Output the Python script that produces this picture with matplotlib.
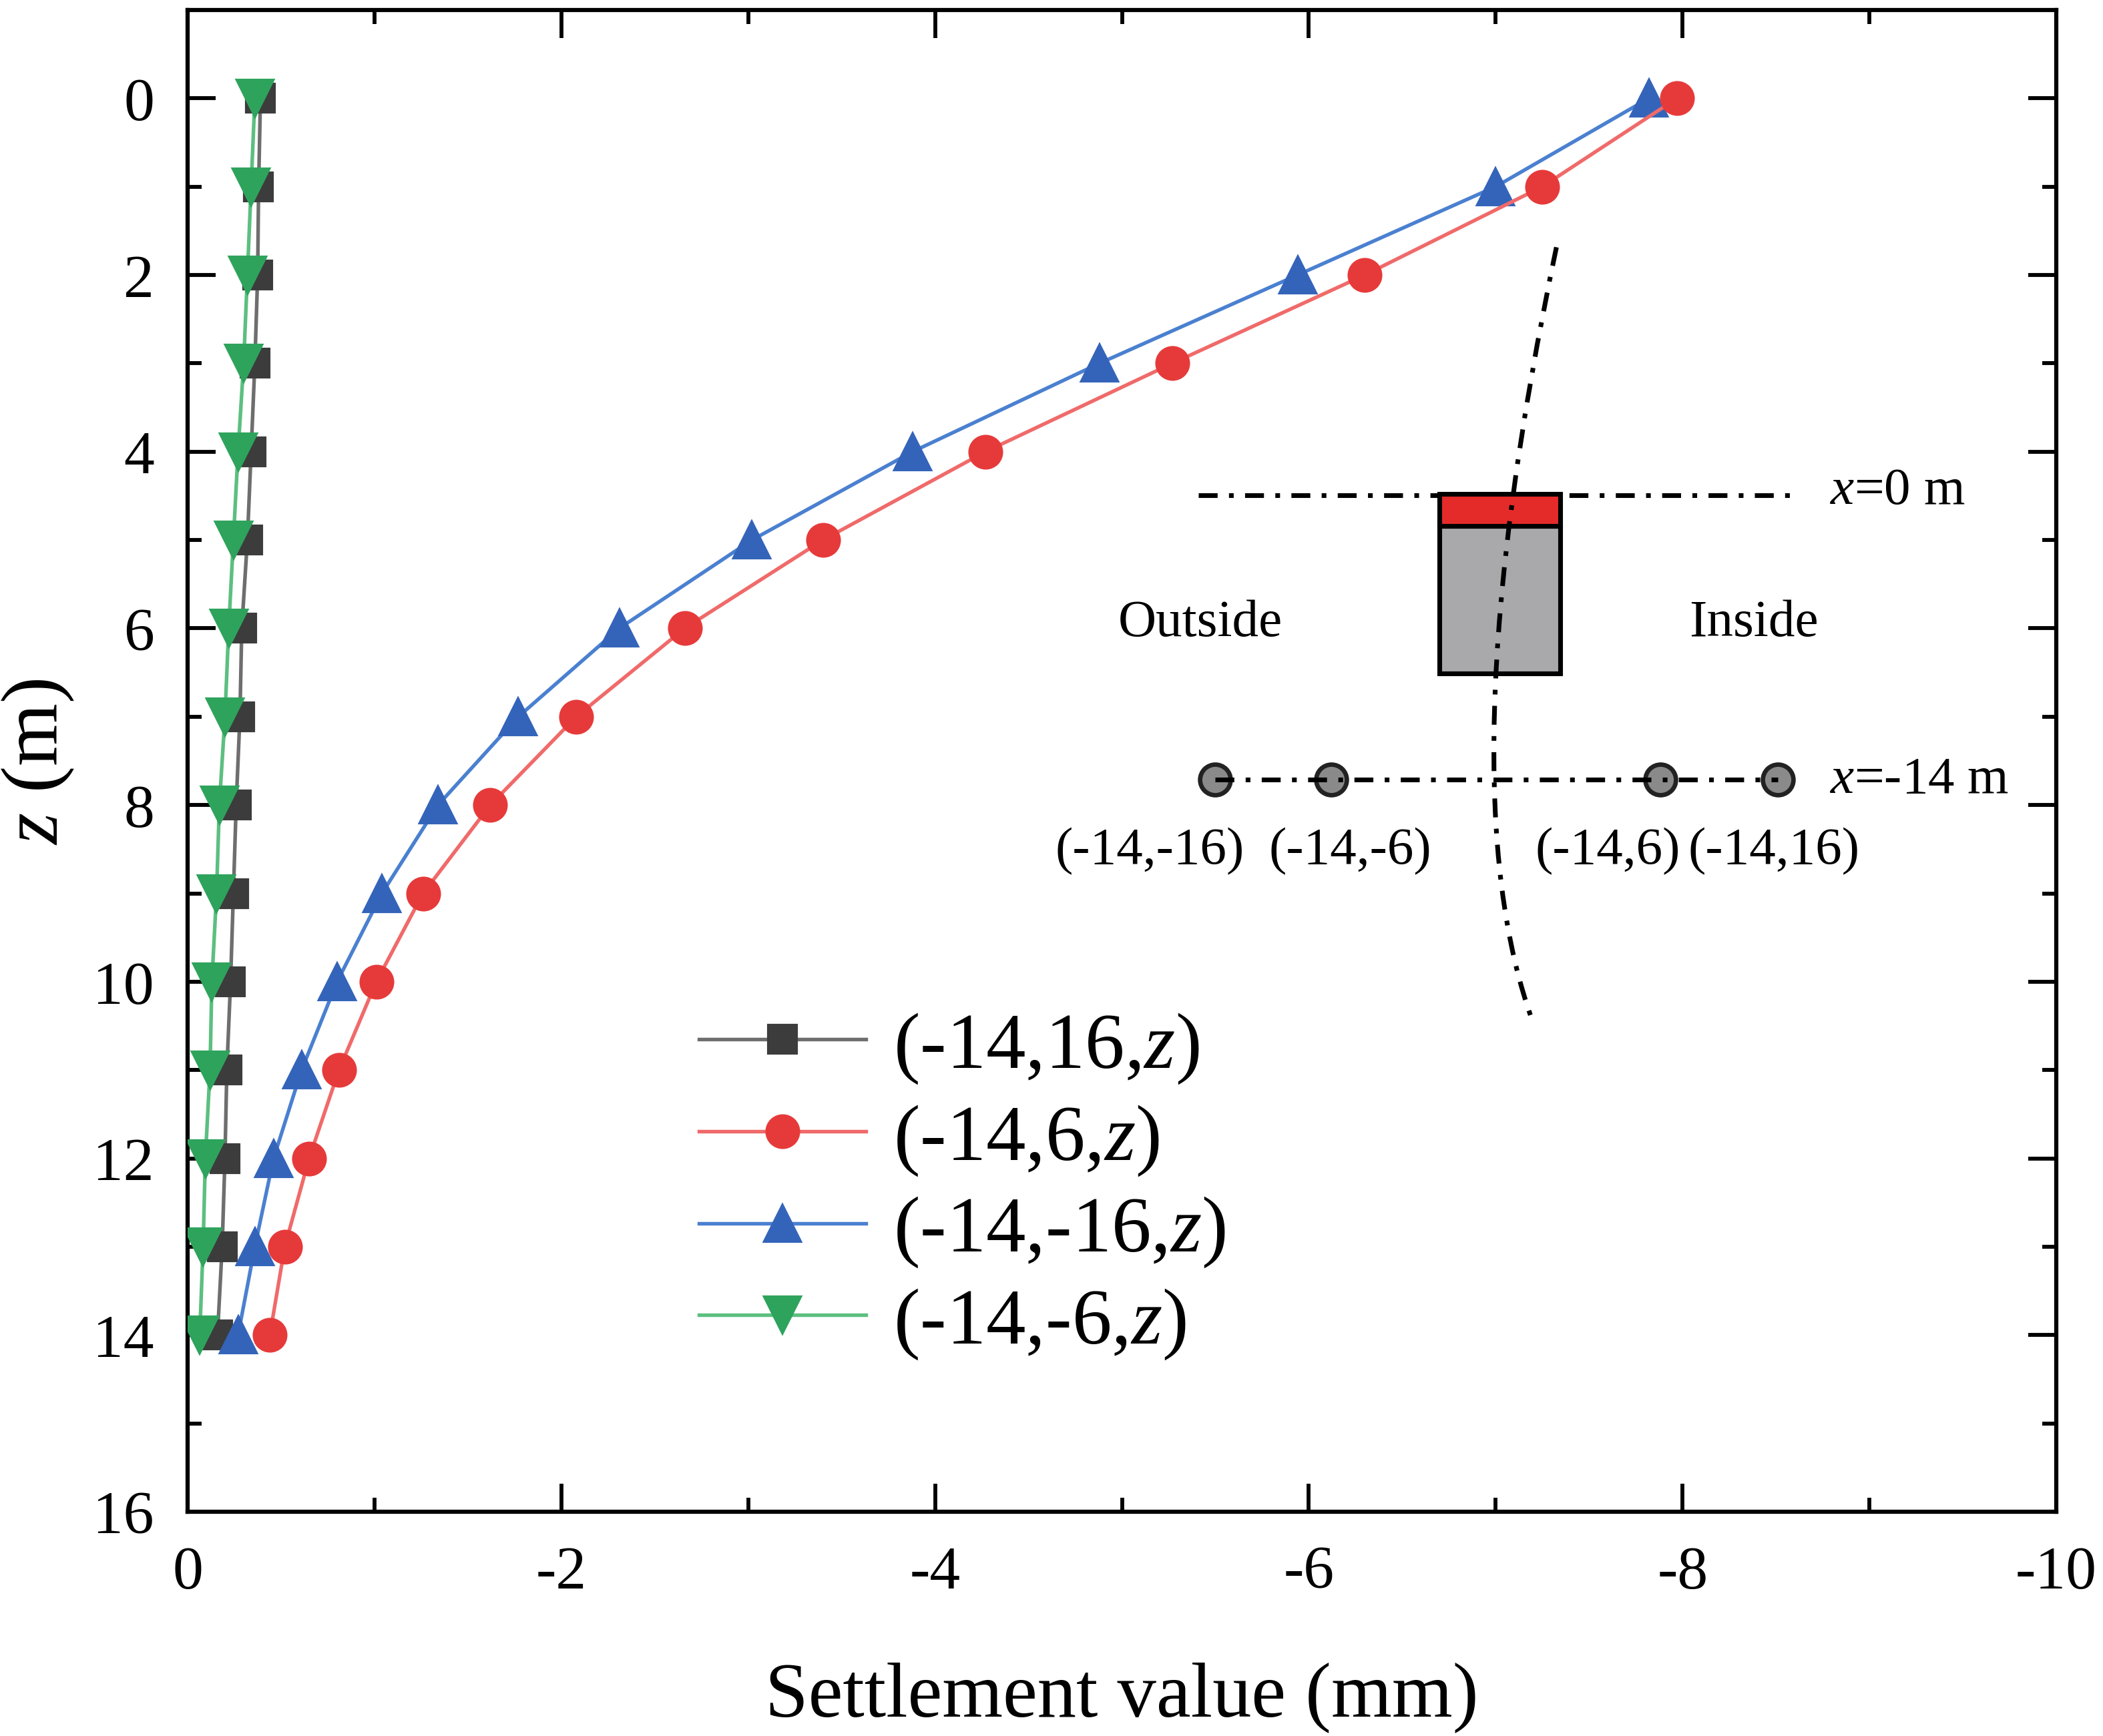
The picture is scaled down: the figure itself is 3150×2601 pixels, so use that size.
"""
    settlement along depth at x=-14 m, four monitoring columns
"""

import numpy as np
import matplotlib
matplotlib.use("Agg")
import matplotlib.pyplot as plt
from matplotlib.path import Path
from matplotlib.patches import PathPatch, Rectangle

plt.rcParams["font.family"] = ["Liberation Serif", "DejaVu Serif"]
plt.rcParams["mathtext.fontset"] = "custom"
plt.rcParams["mathtext.rm"] = "Liberation Serif"
plt.rcParams["mathtext.it"] = "Liberation Serif:italic"
plt.rcParams["axes.unicode_minus"] = False

# depth (m)
depth = list(range(15))

# settlement (mm)
settle_p16 = [-0.39, -0.38, -0.375, -0.36, -0.34, -0.32, -0.29, -0.28,
              -0.26, -0.245, -0.23, -0.21, -0.20, -0.185, -0.16]
settle_p6 = [-7.97, -7.25, -6.30, -5.27, -4.27, -3.40, -2.66, -2.08,
             -1.62, -1.26, -1.01, -0.81, -0.65, -0.52, -0.44]
settle_m16 = [-7.82, -7.00, -5.94, -4.88, -3.88, -3.02, -2.31, -1.77,
              -1.34, -1.04, -0.80, -0.61, -0.46, -0.36, -0.27]
settle_m6 = [-0.36, -0.34, -0.32, -0.30, -0.27, -0.245, -0.22, -0.20,
             -0.17, -0.155, -0.13, -0.12, -0.095, -0.083, -0.065]

labels = ["(-14,16,$z$)", "(-14,6,$z$)", "(-14,-16,$z$)", "(-14,-6,$z$)"]

x_ticks = [0, -2, -4, -6, -8, -10]
y_ticks = [0, 2, 4, 6, 8, 10, 12, 14, 16]

fig = plt.figure(figsize=(10.5, 8.6733), dpi=300)
ax = fig.add_axes([0.0892, 0.1291, 0.8886, 0.8648])

h_black, = ax.plot(settle_p16, depth, color="#6e6e6e", lw=1.3, marker="s",
                   ms=10, mfc="#3c3c3c", mec="#3c3c3c", zorder=2)
h_red, = ax.plot(settle_p6, depth, color="#f06a6a", lw=1.3, marker="o",
                 ms=11.5, mfc="#e63a3a", mec="#e63a3a", zorder=4)
h_blue, = ax.plot(settle_m16, depth, color="#4a80d0", lw=1.3, marker="^",
                  ms=13, mfc="#3464ba", mec="#3464ba", zorder=3)
h_green, = ax.plot(settle_m6, depth, color="#5cbf80", lw=1.3, marker="v",
                   ms=13, mfc="#2ea35c", mec="#2ea35c", zorder=5)

ax.set_xlim(0, -10)
ax.set_ylim(16, -1)
ax.set_xticks(x_ticks)
ax.set_xticks(np.arange(-1, -10, -2), minor=True)
ax.set_yticks(y_ticks)
ax.set_yticks(np.arange(1, 16, 2), minor=True)
ax.tick_params(which="both", direction="in", top=True, right=True,
               width=1.4, labelsize=22, pad=12)
ax.tick_params(which="major", length=10)
ax.tick_params(which="minor", length=5)
for sp in ax.spines.values():
    sp.set_linewidth(1.5)

ax.set_xlabel("Settlement value (mm)", fontsize=28, labelpad=22)
ax.set_ylabel("$z$ (m)", fontsize=29, labelpad=6)

ax.legend([h_black, h_red, h_blue, h_green], labels, loc="upper left",
          bbox_to_anchor=(0.2525, 0.36), frameon=False, fontsize=28.5,
          handlelength=2.1, handletextpad=0.35, labelspacing=0.22,
          borderpad=0)

# schematic inset (axes fraction)
tr = ax.transAxes
dash = (0, (4, 2.4, 1.0, 2.4))
ax.plot([0.541, 0.860], [0.677, 0.677], transform=tr, color="black",
        lw=1.7, ls=dash)
ax.add_patch(Rectangle((0.670, 0.558), 0.0645, 0.0985, transform=tr,
                       facecolor="#a9a9ab", edgecolor="black", lw=1.7,
                       zorder=6))
ax.add_patch(Rectangle((0.670, 0.6563), 0.0645, 0.0215, transform=tr,
                       facecolor="#e52a2a", edgecolor="black", lw=1.7,
                       zorder=6))
arc = Path([(0.7325, 0.842), (0.6722, 0.4848), (0.7205, 0.324)],
           [Path.MOVETO, Path.CURVE3, Path.CURVE3])
ax.add_patch(PathPatch(arc, transform=tr, fill=False, edgecolor="black",
                       lw=1.7, ls=dash, zorder=7))

ax.plot([0.550, 0.851], [0.4875, 0.4875], transform=tr, color="black",
        lw=1.7, ls=dash, zorder=7)
ax.plot([0.550, 0.612, 0.788, 0.851], [0.4875] * 4, transform=tr,
        ls="none", marker="o", ms=11, mfc="#8a8a8a", mec="#222222", mew=1.6,
        zorder=6)

ax.text(0.879, 0.680, "$x$=0 m", transform=tr, fontsize=19,
        ha="left", va="center")
ax.text(0.879, 0.4875, "$x$=-14 m", transform=tr, fontsize=19,
        ha="left", va="center")
ax.text(0.542, 0.592, "Outside", transform=tr, fontsize=19, ha="center",
        va="center")
ax.text(0.838, 0.592, "Inside", transform=tr, fontsize=19, ha="center",
        va="center")
for xf, txt in zip([0.515, 0.622, 0.760, 0.849],
                   ["(-14,-16)", "(-14,-6)", "(-14,6)", "(-14,16)"]):
    ax.text(xf, 0.440, txt, transform=tr, fontsize=19, ha="center",
            va="center")

fig.savefig("out.png", dpi=300)
plt.close()
